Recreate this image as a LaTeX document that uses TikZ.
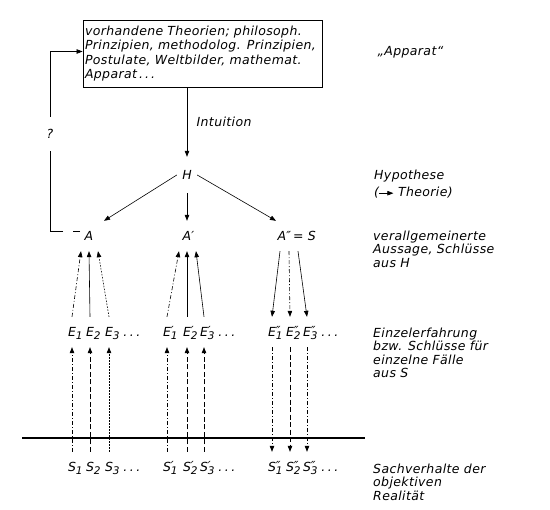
\documentclass[tikz,border=0pt]{standalone}
\usepackage{fontspec}
\setmainfont{DejaVu Sans}[LetterSpace=3]
\usetikzlibrary{arrows.meta, positioning}
\newcommand\bez[3]{#1\rlap{\raisebox{1pt}{#2}}\rlap{\raisebox{-3pt}{\fontsize{10.5}{11}\selectfont#3}}}
\newcommand\pkte{\rlap{\kern10.5pt.\kern2.5pt.\kern2.5pt.}}

\begin{document}
\begin{tikzpicture}[
    x=1pt, y=-1pt,
    font=\itshape\fontsize{12.5}{14.5}\selectfont,
    sym/.style={inner sep=0pt, text height=9pt, text depth=0pt, minimum height=30pt},
    pf/.style={line width=.6pt, -{Triangle[length=6pt, width=4.5pt]}},
    strich/.style={dash pattern=on 5pt off 2.5pt},
    strpkt/.style={dash pattern=on 4pt off 2pt on 1pt off 2pt},
    pkt/.style={dash pattern=on 1.5pt off 1.5pt},
    rechts/.style={anchor=north west, inner sep=0pt, align=left,
      font=\itshape\fontsize{12.5}{13.5}\selectfont}
  ]
  \useasboundingbox (0,0) rectangle (550,510);

  \node[draw, line width=.9pt, inner sep=2pt, text width=235pt, align=left,
    minimum height=67pt] (box) at (202.5,53.5) {%
    vorhandene Theorien; philosoph.\\
    Prinzipien, methodolog. Prinzipien,\\
    Postulate, Weltbilder, mathemat.\\
    Apparat\,.\,.\,.};

  \node[inner sep=0pt, text height=9pt, text depth=0pt, minimum height=36pt,
    minimum width=20pt] (H) at (187,175) {H};

  \node[sym] (a) at (89,236) {A};
  \node[sym] (a1) at (187,236) {A\rlap{′}};
  \node[sym] (a2) at (282,236) {A\rlap{″\,= S}};

  \node[sym] (e1) at (72,332) {\bez{E}{}{1}};
  \node[sym] (e2) at (90,332) {\bez{E}{}{2}};
  \node[sym] (e3) at (109,332) {\bez{E}{}{3}\pkte};
  \node[sym] (e4) at (167,332) {\bez{E}{′}{1}};
  \node[sym] (e5) at (187,332) {\bez{E}{′}{2}};
  \node[sym] (e6) at (204,332) {\bez{E}{′}{3}\pkte};
  \node[sym] (e7) at (272,332) {\bez{E}{″}{1}};
  \node[sym] (e8) at (290,332) {\bez{E}{″}{2}};
  \node[sym] (e9) at (307,332) {\bez{E}{″}{3}\pkte};

  \node[sym] (s1) at (72,467) {\bez{S}{}{1}};
  \node[sym] (s2) at (90,467) {\bez{S}{}{2}};
  \node[sym] (s3) at (109,467) {\bez{S}{}{3}\pkte};
  \node[sym] (s4) at (167,467) {\bez{S}{′}{1}};
  \node[sym] (s5) at (187,467) {\bez{S}{′}{2}};
  \node[sym] (s6) at (204,467) {\bez{S}{′}{3}\pkte};
  \node[sym] (s7) at (272,467) {\bez{S}{″}{1}};
  \node[sym] (s8) at (290,467) {\bez{S}{″}{2}};
  \node[sym] (s9) at (307,467) {\bez{S}{″}{3}\pkte};

  \node[anchor=base west] (lapp) at (374,56) {„Apparat“};
  \node[rechts] (lhyp) at (374,169.5) {Hypothese\\[4pt](\tikz[baseline=-3.5pt]\draw[line width=.6pt,
    -{Triangle[length=6pt, width=4.5pt]}] (0pt,0pt) -- (14pt,0pt);\ Theorie)};
  \node[rechts] (laus) at (373,230.5) {verallgemeinerte\\Aussage, Schlüsse\\aus H};
  \node[rechts] (lein) at (373,327.5) {Einzelerfahrung\\bzw. Schlüsse für\\einzelne Fälle\\aus S};
  \node[rechts] (lsach) at (373,463.5) {Sachverhalte der\\objektiven\\Realität};

  \draw[pf] (box.south -| H.north) -- node[right, xshift=6pt] {Intuition} (H.north);
  \draw[pf] (H.west) -- ([xshift=15pt]a.north);
  \draw[pf] (H.south) -- (a1.north);
  \draw[pf] (H.east) -- ([xshift=-6pt]a2.north);

  \coordinate (fb) at (80,231);
  \coordinate (fbe) at (50,231);
  \draw[line width=.6pt, dash pattern=on 7pt off 10pt on 20pt off 1pt] (fb) -- (fbe);
  \draw[pf] (fbe) |- node[pos=.27, fill=white, inner sep=2pt, minimum height=34pt] {?}
    ([yshift=2pt]box.west);

  \draw[pf, strpkt] (e1.north) -- ([xshift=-8pt]a.south);
  \draw[pf] (e2.north) -- (a.south);
  \draw[pf, pkt] (e3.north) -- ([xshift=9pt]a.south);
  \draw[pf, strpkt] (e4.north) -- ([xshift=-8pt]a1.south);
  \draw[pf] (e5.north) -- (a1.south);
  \draw[pf] (e6.north) -- ([xshift=9pt]a1.south);
  \draw[pf] ([xshift=-2pt]a2.south) -- (e7.north);
  \draw[pf, strpkt] ([xshift=7pt]a2.south) -- (e8.north);
  \draw[pf] ([xshift=16pt]a2.south) -- (e9.north);

  \draw[line width=1.2pt] (22,438) -- (365,438);

  \draw[pf, strpkt] (s1.north) -- (e1.south);
  \draw[pf, strich] (s2.north) -- (e2.south);
  \draw[pf, pkt] (s3.north) -- (e3.south);
  \draw[pf, strpkt] (s4.north) -- (e4.south);
  \draw[pf, strich] (s5.north) -- (e5.south);
  \draw[pf, strich] (s6.north) -- (e6.south);
  \draw[pf, strpkt] (e7.south) -- (s7.north);
  \draw[pf, strich] (e8.south) -- (s8.north);
  \draw[pf, strpkt] (e9.south) -- (s9.north);
\end{tikzpicture}
\end{document}
